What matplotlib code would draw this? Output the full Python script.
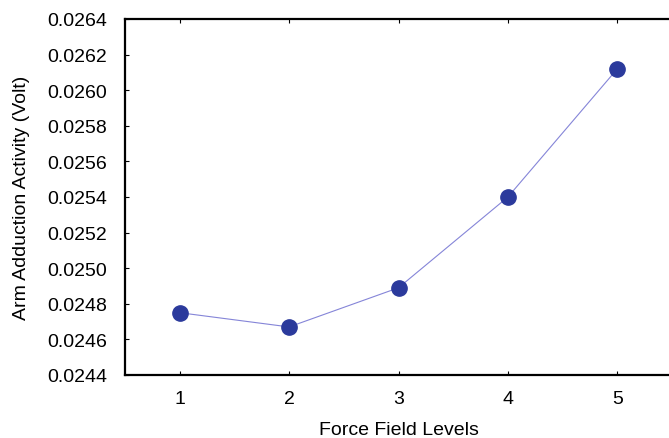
import numpy as np
import matplotlib.pyplot as plt

plt.rcParams['font.family'] = ['Liberation Sans', 'DejaVu Sans']

levels = [1, 2, 3, 4, 5]
activity = [0.02475, 0.02467, 0.02489, 0.02540, 0.02612]
yticks = [0.0244, 0.0246, 0.0248, 0.0250, 0.0252, 0.0254, 0.0256,
          0.0258, 0.0260, 0.0262, 0.0264]

fig = plt.figure(figsize=(6.69, 4.39), dpi=100)
ax = fig.add_axes([125/669, 1 - 376/439, 547/669, 356/439])

ax.plot(levels, activity, '-', color='#8585d8', linewidth=0.8, zorder=2)
ax.plot(levels, activity, 'o', color='#2b3a9c', markersize=11, zorder=3)

ax.set_xlim(0.5, 5.5)
ax.set_ylim(0.0244, 0.0264)
ax.set_xticks(levels)
ax.set_yticks(yticks)
ax.set_yticklabels(['%.4f' % v for v in yticks])

ax.tick_params(direction='in', length=3, width=0.8, labelsize=14, pad=11,
               top=True, right=False)
ax.tick_params(axis='y', pad=13)
for side in ['left', 'bottom', 'top']:
    ax.spines[side].set_linewidth(1.6)
ax.spines['right'].set_visible(False)

ax.set_xlabel('Force Field Levels', fontsize=14, labelpad=10)
ax.set_ylabel('Arm Adduction Activity (Volt)', fontsize=14, labelpad=12)

fig.savefig('out.png', dpi=100)
